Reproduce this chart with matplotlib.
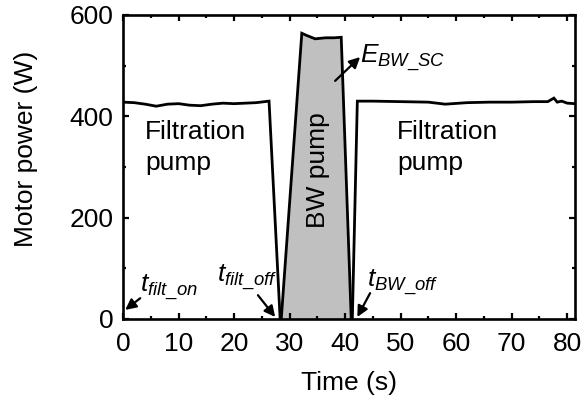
import matplotlib
matplotlib.use("Agg")
import matplotlib.pyplot as plt
from matplotlib.ticker import MultipleLocator

plt.rcParams['font.family'] = ['Liberation Sans', 'DejaVu Sans']
plt.rcParams['mathtext.fontset'] = 'custom'
plt.rcParams['mathtext.it'] = 'Liberation Sans:italic'
plt.rcParams['mathtext.rm'] = 'Liberation Sans'
plt.rcParams['mathtext.bf'] = 'Liberation Sans:bold'

# Filtration pump (before backwash)
filt1_t = [0, 2, 4, 6, 8, 10, 12, 14, 16, 18, 20, 22, 24, 26.3, 28.3]
filt1_p = [428, 427, 424, 420, 424, 425, 422, 421, 424, 426, 425, 426, 427, 430, 0]
# Backwash pump
bw_t = [28.5, 32.2, 33.0, 34.6, 36.5, 38.0, 39.3, 41.1]
bw_p = [0, 564, 560, 553, 555, 555, 556, 0]
# Filtration pump (after backwash)
filt2_t = [41.3, 42.2, 45, 50, 55, 58, 62, 66, 70, 74, 76.5, 77.6, 78.2, 79, 80, 81.4]
filt2_p = [0, 430, 430, 429, 428, 424, 427, 428, 428, 429, 429, 436, 428, 430, 426, 425]

xticks = [0, 10, 20, 30, 40, 50, 60, 70, 80]
yticks = [0, 200, 400, 600]

fig = plt.figure(figsize=(5.82, 4.05), dpi=100)
ax = fig.add_axes([123/582, 1-319/405, (575-123)/582, (319-15)/405])

ax.fill_between(bw_t, bw_p, 0, color='#c0c0c0', lw=0)
lw = 2.0
ax.plot(filt1_t, filt1_p, color='k', lw=lw, solid_joinstyle='miter')
ax.plot(bw_t, bw_p, color='k', lw=lw, solid_joinstyle='miter')
ax.plot(filt2_t, filt2_p, color='k', lw=lw, solid_joinstyle='miter')

ax.set_xlim(0, 81.4)
ax.set_ylim(0, 600)
ax.set_xticks(xticks)
ax.set_yticks(yticks)
ax.xaxis.set_minor_locator(MultipleLocator(5))
ax.yaxis.set_minor_locator(MultipleLocator(100))
ax.tick_params(which='both', direction='in', top=True, right=True, width=1.6, labelsize=19)
ax.tick_params(which='major', length=4.5)
ax.tick_params(which='minor', length=2.5)
ax.tick_params(axis='y', pad=7)
ax.tick_params(axis='x', pad=9.5)
for s in ax.spines.values():
    s.set_linewidth(1.9)

ax.set_xlabel('Time (s)', fontsize=19, labelpad=11)
ax.set_ylabel('Motor power (W)', fontsize=19)
ax.yaxis.set_label_coords(-0.187, 0.56)

fs = 19
ax.text(4.0, 294, 'Filtration\npump', fontsize=fs, va='baseline', ha='left', linespacing=1.35)
ax.text(49.4, 294, 'Filtration\npump', fontsize=fs, va='baseline', ha='left', linespacing=1.35)
ax.text(35.2, 294, 'BW pump', fontsize=fs, rotation=90, ha='center', va='center')

ap = dict(arrowstyle='-|>', color='k', lw=1.6, mutation_scale=16, shrinkA=0, shrinkB=0)
ax.text(42.7, 505, r'$E_{BW\_SC}$', fontsize=fs, ha='left', va='baseline')
ax.annotate('', xy=(42.7, 517), xytext=(38.2, 470), arrowprops=ap)

ax.text(3.0, 53, r'$t_{filt\_on}$', fontsize=fs, ha='left', va='baseline')
ax.annotate('', xy=(0.4, 18), xytext=(3.1, 41), arrowprops=ap)

ax.text(16.9, 71, r'$t_{filt\_off}$', fontsize=fs, ha='left', va='baseline')
ax.annotate('', xy=(27.4, 4), xytext=(24.3, 47), arrowprops=ap)

ax.text(44.0, 61, r'$t_{BW\_off}$', fontsize=fs, ha='left', va='baseline')
ax.annotate('', xy=(42.2, 4), xytext=(44.5, 51), arrowprops=ap)

fig.savefig('out.png', dpi=100)
